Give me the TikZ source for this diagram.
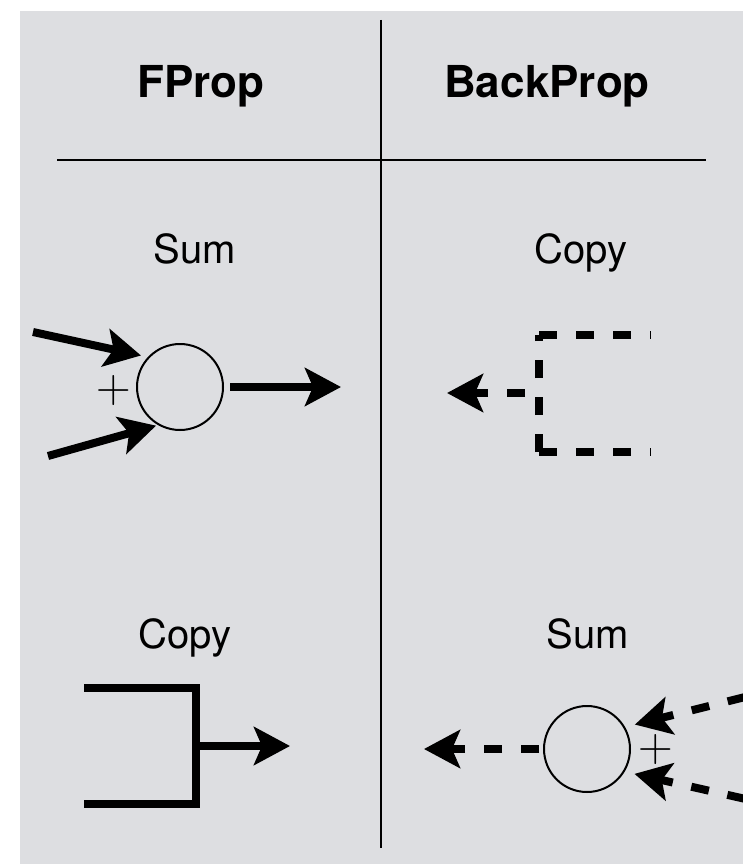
\documentclass[tikz,border=0pt]{standalone}
\usepackage{fontspec}
\setsansfont{TeX Gyre Heros}
\usetikzlibrary{arrows.meta}
\definecolor{panelgray}{RGB}{221,222,225}

\begin{document}
\begin{tikzpicture}[x=1pt, y=-1pt,
  colhead/.style={font=\fontsize{44}{44}\selectfont\sffamily\bfseries, anchor=base, inner sep=0pt},
  oplabel/.style={font=\fontsize{40}{40}\selectfont\sffamily, anchor=base, inner sep=0pt},
  plussign/.style={font=\fontsize{48}{48}\selectfont\rmfamily, inner sep=0pt},
  sumnode/.style={draw, circle, line width=2pt, minimum size=86pt, inner sep=0pt},
  fwd/.style={line width=8pt, -{Stealth[length=36pt, width=38pt, inset=8pt]}},
  bwd/.style={fwd, dash pattern=on 18pt off 19pt},
  rule/.style={line width=2pt}]
\useasboundingbox (0,0) rectangle (743,864);
\fill[panelgray] (20,11) rectangle (743,864);
\clip (0,0) rectangle (743,864);

% table lines
\coordinate (vtop) at (381,20);
\coordinate (vbot) at (381,848);
\coordinate (hleft) at (57,160);
\coordinate (hright) at (706,160);
\draw[rule] (vtop) -- (vbot);
\draw[rule] (hleft) -- (hright);

\node[colhead] (fhead) at (201,98) {FProp};
\node[colhead] (bhead) at (547,98) {BackProp};

\node[oplabel] (fsumlabel) at (195,263) {Sum};
\node[oplabel] (bcopylabel) at (581,263) {Copy};
\node[oplabel] (fcopylabel) at (185,648) {Copy};
\node[oplabel] (bsumlabel) at (588,648) {Sum};

% forward sum
\node[sumnode] (fsum) at (180,387) {};
\node[plussign, anchor=base] (fplus) at (114,402) {+};
\coordinate (fin1) at (33,332);
\coordinate (fin2) at (48,456);
\coordinate (fout) at (341,387);
\draw[fwd, shorten >=7pt] (fin1) -- (fsum.137);
\draw[fwd, shorten >=2pt] (fin2) -- (fsum.240);
\draw[fwd, shorten <=6pt] (fsum.east) -- (fout);

% backward copy
\coordinate (bctop) at (539,335);
\coordinate (bcbot) at (539,452);
\coordinate (bctopend) at (651,335);
\coordinate (bcbotend) at (651,452);
\coordinate (bcsplit) at (539,393);
\coordinate (bctip) at (447,393);
\draw[bwd, -] (bctop) -- (bctopend);
\draw[bwd, -] (bcbot) -- (bcbotend);
\draw[bwd, -] (bcbot) -- (bctop);
\draw[bwd, shorten <=14pt] (bcsplit) -- (bctip);

% forward copy
\coordinate (fctop) at (84,688);
\coordinate (fcbot) at (84,804);
\coordinate (fcsplit) at (196,746);
\coordinate (fctip) at (290,746);
\draw[line width=8pt] (fctop) -- (fctop -| fcsplit) -- (fcbot -| fcsplit) -- (fcbot);
\draw[fwd] (fcsplit) -- (fctip);

% backward sum
\node[sumnode] (bsum) at (587,749) {};
\node[plussign, anchor=base] (bplus) at (656,761) {+};
\coordinate (bin1) at (781,688);
\coordinate (bin2) at (781,807);
\coordinate (bsumtip) at (424,749);
\draw[bwd, shorten >=10pt] (bin1) -- (bsum.30);
\draw[bwd, shorten >=10pt] (bin2) -- (bsum.329);
\draw[bwd, shorten <=4pt] (bsum.west) -- (bsumtip);
\end{tikzpicture}
\end{document}
